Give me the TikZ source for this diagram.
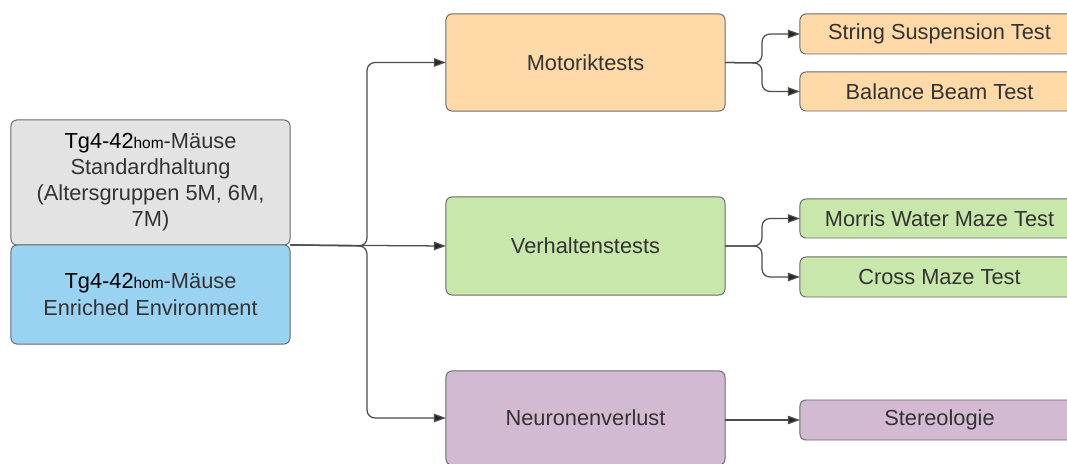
\documentclass[tikz,border=0pt]{standalone}
\usepackage{fontspec}
\setmainfont{Liberation Sans}
\usepackage{xcolor}
\usepackage{tikz}
\usetikzlibrary{arrows.meta,positioning,calc}
\definecolor{mgrey}{HTML}{E3E3E3}
\definecolor{mblue}{HTML}{9AD2F2}
\definecolor{morange}{HTML}{FFDAA8}
\definecolor{mgreen}{HTML}{C8E7AA}
\definecolor{mpurple}{HTML}{D2BBD2}
\definecolor{medge}{HTML}{6A6A6A}
\definecolor{mtext}{HTML}{333333}
\tikzset{
  >={Triangle[length=3mm, width=2.1mm, fill=black!85]},
  mbox/.style={rectangle, rounded corners=1.5mm, draw=medge, line width=0.7pt,
               minimum width=6.975cm, align=center, inner sep=2pt, outer sep=0pt,
               text=mtext, font=\fontsize{15.5}{18.5}\selectfont},
  mline/.style={->, draw=black!70, line width=0.9pt, rounded corners=2mm},
}
\newcommand{\tgmaus}{{\color{black}Tg4-42{\fontsize{11}{11}\selectfont hom}}-Mäuse}

\begin{document}
\begin{tikzpicture}[x=0.025cm,y=-0.025cm]
  \useasboundingbox (0,0) rectangle (1067,464);
  \clip (0,0) rectangle (1067,464);

  % Gruppen
  \node[mbox, fill=mgrey, minimum height=3.125cm] (std) at (150.5,182.5)
    {\tgmaus\\Standardhaltung\\(Altersgruppen 5M, 6M,\\7M)};
  \node[mbox, fill=mblue, minimum height=2.475cm] (enr) at (150.5,294.5)
    {\tgmaus\\Enriched Environment};

  % Testbereiche
  \node[mbox, fill=morange, minimum height=2.425cm] (motor) at (585.5,62.5) {Motoriktests};
  \node[mbox, fill=mgreen, minimum height=2.45cm] (verh) at (585.5,246) {Verhaltenstests};
  \node[mbox, fill=mpurple, minimum height=2.35cm] (neuro) at (585.5,418) {Neuronenverlust};

  % Einzeltests
  \node[mbox, fill=morange, minimum height=1cm] (string) at (939.5,34) {String Suspension Test};
  \node[mbox, fill=morange, minimum height=0.975cm] (beam) at (939.5,91.5) {Balance Beam Test};
  \node[mbox, fill=mgreen, minimum height=0.975cm] (morris) at (939.5,218.5) {Morris Water Maze Test};
  \node[mbox, fill=mgreen, minimum height=1cm] (cross) at (939.5,277) {Cross Maze Test};
  \node[mbox, fill=mpurple, minimum height=1cm] (stereo) at (939.5,420) {Stereologie};

  \coordinate (split) at (367,246);
  \coordinate (msplit) at (762,63);
  \coordinate (vsplit) at (762,246);

  \draw[mline] (enr.north east) -- (split) |- (motor.west);
  \draw[mline] (enr.north east) -- (verh.west);
  \draw[mline] (enr.north east) -- (split) |- (neuro.west);

  \draw[mline] (motor.east) -- (msplit) |- (string.west);
  \draw[mline] (motor.east) -- (msplit) |- (beam.west);
  \draw[mline] (verh.east) -- (vsplit) |- (morris.west);
  \draw[mline] (verh.east) -- (vsplit) |- (cross.west);
  \draw[mline] (neuro.east |- stereo.west) -- (stereo.west);

\end{tikzpicture}
\end{document}
